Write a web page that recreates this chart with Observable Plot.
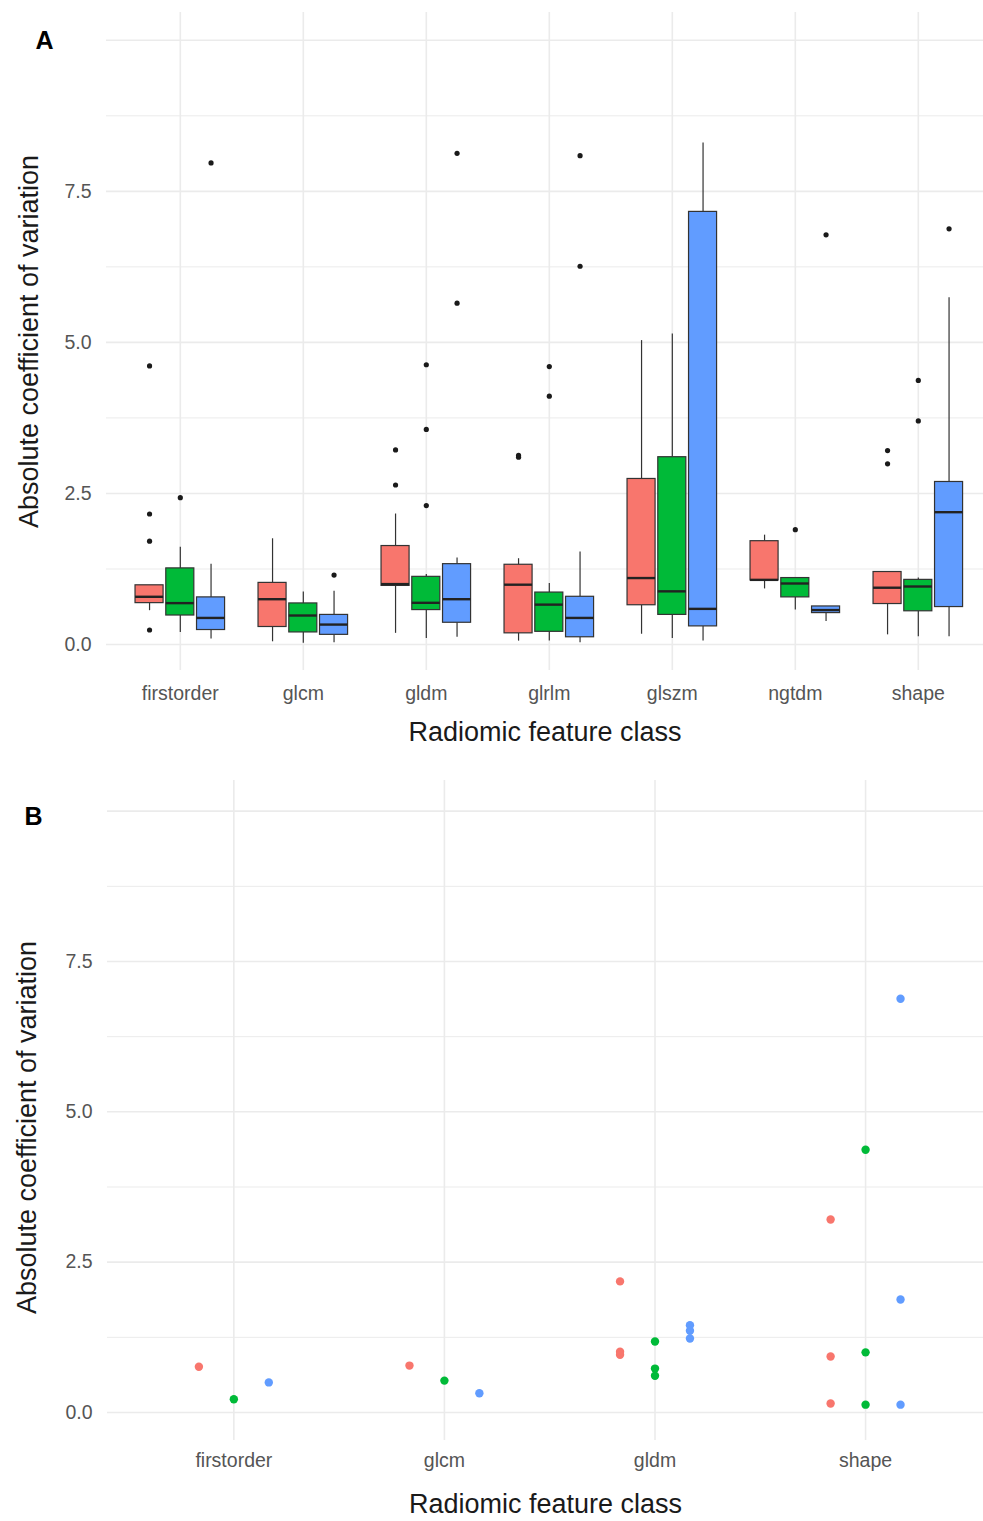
<!DOCTYPE html>
<html><head><meta charset="utf-8">
<script src="https://cdn.jsdelivr.net/npm/d3@7"></script>
<script src="https://cdn.jsdelivr.net/npm/@observablehq/plot@0.6"></script>
<style>
body{margin:0;background:#fff;}
#wrap{position:relative;width:983px;height:1521px;overflow:hidden;background:#fff;}
#wrap svg{position:absolute;left:0;}
</style></head><body><div id="wrap"></div>
<script>
// ---------- shared ----------
const groups = ["Group 1", "Group 2", "Group 3"];
const groupColors = ["#F8766D", "#00BA38", "#619CFF"];
const yTickValues = [0, 2.5, 5, 7.5];
const majorGrid = [0, 2.5, 5, 7.5, 10];
const minorGrid = [1.25, 3.75, 6.25, 8.75];
const yTitle = "Absolute coefficient of variation";
const xTitle = "Radiomic feature class";

// ---------- panel A (box plots) ----------
const classesA = ["firstorder", "glcm", "gldm", "glrlm", "glszm", "ngtdm", "shape"];
// group 1 (red)
const redLow    = [0.56, 0.045, 0.185, 0.056, 0.17, 0.92, 0.16];
const redQ1     = [0.685, 0.29, 0.97, 0.185, 0.65, 1.06, 0.67];
const redMedian = [0.79, 0.75, 1.00, 0.99, 1.10, 1.07, 0.94];
const redQ3     = [0.98, 1.02, 1.63, 1.32, 2.74, 1.71, 1.20];
const redHigh   = [0.98, 1.75, 2.16, 1.42, 5.03, 1.81, 1.20];
// group 2 (green)
const greenLow    = [0.20, 0.02, 0.10, 0.06, 0.10, 0.57, 0.13];
const greenQ1     = [0.48, 0.20, 0.57, 0.21, 0.49, 0.78, 0.55];
const greenMedian = [0.685, 0.48, 0.69, 0.66, 0.88, 1.01, 0.96];
const greenQ3     = [1.26, 0.68, 1.12, 0.86, 3.10, 1.10, 1.07];
const greenHigh   = [1.61, 0.87, 1.16, 1.01, 5.14, 1.10, 1.10];
// group 3 (blue)
const blueLow    = [0.09, 0.03, 0.12, 0.03, 0.06, 0.38, 0.13];
const blueQ1     = [0.24, 0.16, 0.36, 0.12, 0.30, 0.52, 0.62];
const blueMedian = [0.44, 0.33, 0.75, 0.44, 0.59, 0.57, 2.19];
const blueQ3     = [0.78, 0.49, 1.33, 0.79, 7.16, 0.63, 2.69];
const blueHigh   = [1.33, 0.88, 1.43, 1.53, 8.30, 0.63, 5.74];
// outliers: [class, group index, value]
const outliersA = [
  ["firstorder", 0, 4.61], ["firstorder", 0, 2.16], ["firstorder", 0, 1.71], ["firstorder", 0, 0.24],
  ["firstorder", 1, 2.43], ["firstorder", 2, 7.97],
  ["glcm", 2, 1.15],
  ["gldm", 0, 2.64], ["gldm", 0, 3.22], ["gldm", 1, 2.30], ["gldm", 1, 3.56], ["gldm", 1, 4.63],
  ["gldm", 2, 5.65], ["gldm", 2, 8.13],
  ["glrlm", 0, 3.13], ["glrlm", 0, 3.10], ["glrlm", 1, 4.11], ["glrlm", 1, 4.60],
  ["glrlm", 2, 6.26], ["glrlm", 2, 8.09],
  ["ngtdm", 1, 1.90], ["ngtdm", 2, 6.78],
  ["shape", 0, 2.99], ["shape", 0, 3.21], ["shape", 1, 3.70], ["shape", 1, 4.37], ["shape", 2, 6.88]
];

// ---------- panel B (points) ----------
const classesB = ["firstorder", "glcm", "gldm", "shape"];
const redPointsB   = [[0.76], [0.78], [2.18, 1.01, 0.96], [3.21, 0.93, 0.15]];
const greenPointsB = [[0.22], [0.53], [1.18, 0.73, 0.61], [4.37, 1.00, 0.13]];
const bluePointsB  = [[0.50], [0.32], [1.45, 1.36, 1.23], [6.88, 1.88, 0.13]];

// ---------- build tables ----------
const FONT = "'Liberation Sans', Arial, Helvetica, sans-serif";
const dodgeA = [-0.25, 0, 0.25];
const boxHalf = 0.114;
const statsA = [
  [redLow, redQ1, redMedian, redQ3, redHigh],
  [greenLow, greenQ1, greenMedian, greenQ3, greenHigh],
  [blueLow, blueQ1, blueMedian, blueQ3, blueHigh]
];
const boxTable = [];
statsA.forEach((s, gi) => classesA.forEach((c, ci) => {
  boxTable.push({cls: c, grp: groups[gi], x: ci + 1 + dodgeA[gi],
    lo: s[0][ci], q1: s[1][ci], med: s[2][ci], q3: s[3][ci], hi: s[4][ci]});
}));
const outTable = outliersA.map(([c, gi, v]) => ({x: classesA.indexOf(c) + 1 + dodgeA[gi], v}));

const dodgeB = [-0.166, 0, 0.166];
const pointTable = [];
[redPointsB, greenPointsB, bluePointsB].forEach((pts, gi) => pts.forEach((vals, ci) => vals.forEach(v => {
  pointTable.push({grp: groups[gi], x: ci + 1 + dodgeB[gi], v});
})));

const gridColor = "#ebebeb";
const tickColor = "#555";

// ---------- plot A ----------
const plotA = Plot.plot({
  width: 983, height: 760,
  marginTop: 12, marginBottom: 90, marginLeft: 106, marginRight: 0,
  x: {type: "linear", domain: [0.4, 7.53]},
  y: {domain: [-0.43, 10.46]},
  color: {domain: groups, range: groupColors},
  style: {fontFamily: FONT, background: "transparent", overflow: "visible"},
  marks: [
    Plot.ruleY(minorGrid, {stroke: gridColor, strokeWidth: 1}),
    Plot.ruleY(majorGrid, {stroke: gridColor, strokeWidth: 1.6}),
    Plot.ruleX(d3.range(1, classesA.length + 1), {stroke: gridColor, strokeWidth: 1.6}),
    Plot.axisY({ticks: yTickValues, tickFormat: d => d.toFixed(1), tickSize: 0, tickPadding: 15,
      fontSize: 19.5, color: tickColor, label: null}),
    Plot.axisX({ticks: d3.range(1, classesA.length + 1), tickFormat: i => classesA[i - 1], tickSize: 0,
      tickPadding: 16, fontSize: 19.5, color: tickColor, label: null}),
    Plot.ruleX(boxTable, {x: "x", y1: "q3", y2: "hi", stroke: "#333", strokeWidth: 1.2}),
    Plot.ruleX(boxTable, {x: "x", y1: "lo", y2: "q1", stroke: "#333", strokeWidth: 1.2}),
    Plot.rect(boxTable, {x1: d => d.x - boxHalf, x2: d => d.x + boxHalf, y1: "q1", y2: "q3",
      fill: "grp", stroke: "#333", strokeWidth: 1.2}),
    Plot.ruleY(boxTable, {y: "med", x1: d => d.x - boxHalf, x2: d => d.x + boxHalf, stroke: "#222", strokeWidth: 2.4}),
    Plot.dot(outTable, {x: "x", y: "v", r: 2.6, fill: "#1a1a1a", stroke: null}),
    Plot.text([xTitle], {frameAnchor: "bottom", dy: 62, fontSize: 27, fill: "#1a1a1a", lineAnchor: "middle", textAnchor: "middle"}),
    Plot.text([yTitle], {frameAnchor: "left", dx: -77, rotate: -90, fontSize: 27, fill: "#1a1a1a", lineAnchor: "middle", textAnchor: "middle"}),
    Plot.text(["A"], {frameAnchor: "top-left", dx: -71, dy: 19, fontSize: 25, fontWeight: "bold", fill: "#000", lineAnchor: "top", textAnchor: "start"})
  ]
});
plotA.style.top = "0px";

// ---------- plot B ----------
const plotB = Plot.plot({
  width: 983, height: 761,
  marginTop: 20, marginBottom: 81, marginLeft: 107, marginRight: 0,
  x: {type: "linear", domain: [0.4, 4.56]},
  y: {domain: [-0.466, 10.51]},
  color: {domain: groups, range: groupColors},
  style: {fontFamily: FONT, background: "transparent", overflow: "visible"},
  marks: [
    Plot.ruleY(minorGrid, {stroke: gridColor, strokeWidth: 1}),
    Plot.ruleY(majorGrid, {stroke: gridColor, strokeWidth: 1.6}),
    Plot.ruleX(d3.range(1, classesB.length + 1), {stroke: gridColor, strokeWidth: 1.6}),
    Plot.axisY({ticks: yTickValues, tickFormat: d => d.toFixed(1), tickSize: 0, tickPadding: 15,
      fontSize: 19.5, color: tickColor, label: null}),
    Plot.axisX({ticks: d3.range(1, classesB.length + 1), tickFormat: i => classesB[i - 1], tickSize: 0,
      tickPadding: 13, fontSize: 19.5, color: tickColor, label: null}),
    Plot.dot(pointTable, {x: "x", y: "v", r: 4.2, fill: "grp", stroke: null}),
    Plot.text([xTitle], {frameAnchor: "bottom", dy: 64, fontSize: 27, fill: "#1a1a1a", lineAnchor: "middle", textAnchor: "middle"}),
    Plot.text([yTitle], {frameAnchor: "left", dx: -80, dy: 17, rotate: -90, fontSize: 27, fill: "#1a1a1a", lineAnchor: "middle", textAnchor: "middle"}),
    Plot.text(["B"], {frameAnchor: "top-left", dx: -83, dy: 27, fontSize: 25, fontWeight: "bold", fill: "#000", lineAnchor: "top", textAnchor: "start"})
  ]
});
plotB.style.top = "760px";

const wrap = document.getElementById("wrap");
wrap.appendChild(plotA);
wrap.appendChild(plotB);
</script>
</body></html>
